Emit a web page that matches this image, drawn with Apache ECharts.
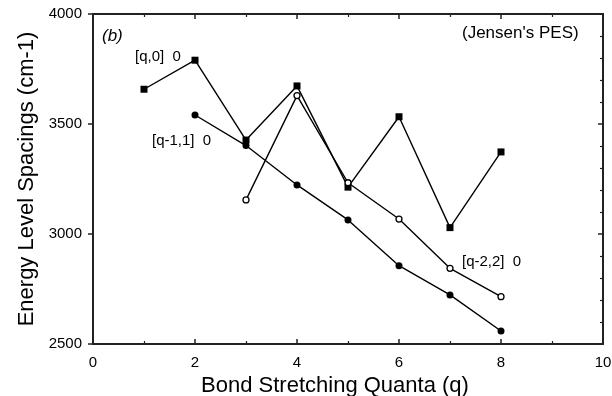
<!DOCTYPE html>
<html>
<head>
<meta charset="utf-8">
<script src="https://cdn.jsdelivr.net/npm/echarts@6/dist/echarts.min.js"></script>
<style>html,body{margin:0;padding:0;background:#fff}#c{width:612px;height:396px}</style>
</head>
<body>
<div id="c"></div>
<script>
const qSquares = [1, 2, 3, 4, 5, 6, 7, 8];
const valSquares = [3658, 3790, 3427, 3673, 3213, 3533, 3029, 3373];
const qFilled = [2, 3, 4, 5, 6, 7, 8];
const valFilled = [3541, 3402, 3223, 3064, 2856, 2723, 2559];
const qOpen = [3, 4, 5, 6, 7, 8];
const valOpen = [3155, 3629, 3233, 3068, 2844, 2715];
const xTicks = [0, 2, 4, 6, 8, 10];
const yTicks = [2500, 3000, 3500, 4000];

const FONT = '"Liberation Sans", Arial, Helvetica, sans-serif';
const pairs = (xs, ys) => xs.map((x, i) => [x, ys[i]]);

const chart = echarts.init(document.getElementById('c'), null, {renderer: 'canvas'});

const AX = '#222222';
function axLine() { return {show: true, onZero: false, lineStyle: {color: AX, width: 2}}; }
function tk(len, inside) { return {show: true, inside: inside, length: len, lineStyle: {color: AX, width: 1.5}}; }
function mtk(n) { return {show: true, splitNumber: n, length: 3, lineStyle: {color: AX, width: 1.2}}; }
function lineSt() { return {color: '#000', width: 1.4}; }
function note(text, left, top, size, italic) {
  return {text: text, left: left, top: top, padding: 0,
    textStyle: {fontFamily: FONT, fontSize: size, fontWeight: 'normal', fontStyle: italic ? 'italic' : 'normal', color: '#000'}};
}

chart.setOption({
  animation: false,
  backgroundColor: '#fff',
  grid: {left: 93, right: 9, top: 14, bottom: 52, containLabel: false, outerBoundsMode: 'none'},
  title: [
    note('(b)', 102, 28, 17, true),
    note('[q,0]  0', 135, 49, 15, false),
    note('[q-1,1]  0', 152, 133, 15, false),
    note('[q-2,2]  0', 462, 254, 15, false),
    note("(Jensen's PES)", 462, 25, 17, false)
  ],
  xAxis: [
    {
      type: 'value', min: xTicks[0], max: xTicks[xTicks.length - 1], interval: 2, position: 'bottom',
      axisLine: axLine(), splitLine: {show: false},
      axisTick: tk(5, true), minorTick: mtk(2),
      axisLabel: {show: false}
    },
    {
      type: 'value', min: xTicks[0], max: xTicks[xTicks.length - 1], interval: 2, position: 'top',
      axisLine: axLine(), splitLine: {show: false},
      axisTick: tk(5, true), minorTick: mtk(2),
      axisLabel: {show: false}
    },
    {
      type: 'category', data: xTicks.map(String), boundaryGap: false, position: 'bottom',
      axisLine: {show: false, onZero: false}, axisTick: {show: false}, splitLine: {show: false},
      axisLabel: {show: true, color: '#000', fontFamily: FONT, fontSize: 15, margin: 11, interval: 0},
      name: 'Bond Stretching Quanta (q)', nameLocation: 'middle', nameGap: 24,
      nameTextStyle: {fontFamily: FONT, fontSize: 22, color: '#000', padding: [0, 26, 0, 0]}
    }
  ],
  yAxis: [
    {
      type: 'value', min: yTicks[0], max: yTicks[yTicks.length - 1], interval: 500, position: 'left',
      axisLine: axLine(), splitLine: {show: false},
      axisTick: tk(5, false),
      axisLabel: {show: false}
    },
    {
      type: 'value', min: yTicks[0], max: yTicks[yTicks.length - 1], interval: 500, position: 'right',
      axisLine: axLine(), splitLine: {show: false},
      axisTick: tk(5, true), minorTick: mtk(5),
      axisLabel: {show: false}
    },
    {
      type: 'category', data: yTicks.map(String), boundaryGap: false, position: 'left',
      axisLine: {show: false, onZero: false}, axisTick: {show: false}, splitLine: {show: false},
      axisLabel: {show: true, color: '#000', fontFamily: FONT, fontSize: 15, margin: 11, interval: 0},
      name: 'Energy Level Spacings (cm-1)', nameLocation: 'middle', nameGap: 55, nameRotate: 90,
      nameTextStyle: {fontFamily: FONT, fontSize: 22, color: '#000'}
    }
  ],
  series: [
    {
      name: '[q,0] 0', type: 'line', xAxisIndex: 0, yAxisIndex: 0,
      data: pairs(qSquares, valSquares),
      symbol: 'rect', symbolSize: 7,
      lineStyle: lineSt(), itemStyle: {color: '#000'}
    },
    {
      name: '[q-1,1] 0', type: 'line', xAxisIndex: 0, yAxisIndex: 0,
      data: pairs(qFilled, valFilled),
      symbol: 'circle', symbolSize: 7,
      lineStyle: lineSt(), itemStyle: {color: '#000'}
    },
    {
      name: '[q-2,2] 0', type: 'line', xAxisIndex: 0, yAxisIndex: 0,
      data: pairs(qOpen, valOpen),
      symbol: 'circle', symbolSize: 6,
      lineStyle: lineSt(), itemStyle: {color: '#fff', borderColor: '#000', borderWidth: 1.3}
    }
  ]
});
</script>
</body>
</html>
